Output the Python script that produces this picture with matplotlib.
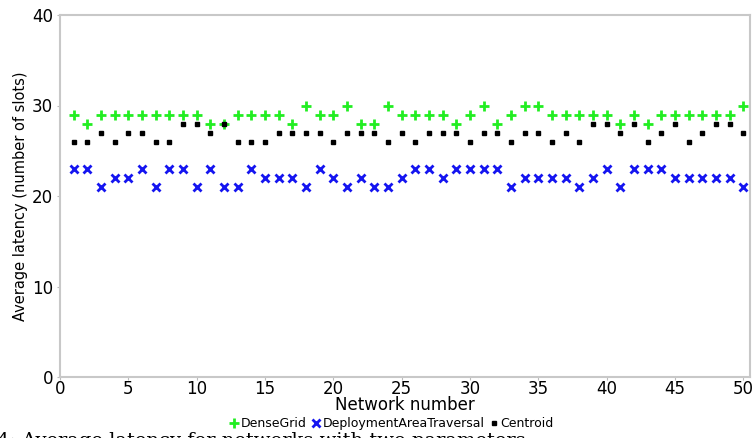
import numpy as np
import matplotlib.pyplot as plt

networks = np.arange(1, 51)

dense_grid = [29, 28, 29, 29, 29, 29, 29, 29, 29, 29,
              28, 28, 29, 29, 29, 29, 28, 30, 29, 29,
              30, 28, 28, 30, 29, 29, 29, 29, 28, 29,
              30, 28, 29, 30, 30, 29, 29, 29, 29, 29,
              28, 29, 28, 29, 29, 29, 29, 29, 29, 30]

area_traversal = [23, 23, 21, 22, 22, 23, 21, 23, 23, 21,
                  23, 21, 21, 23, 22, 22, 22, 21, 23, 22,
                  21, 22, 21, 21, 22, 23, 23, 22, 23, 23,
                  23, 23, 21, 22, 22, 22, 22, 21, 22, 23,
                  21, 23, 23, 23, 22, 22, 22, 22, 22, 21]

centroid = [26, 26, 27, 26, 27, 27, 26, 26, 28, 28,
            27, 28, 26, 26, 26, 27, 27, 27, 27, 26,
            27, 27, 27, 26, 27, 26, 27, 27, 27, 26,
            27, 27, 26, 27, 27, 26, 27, 26, 28, 28,
            27, 28, 26, 27, 28, 26, 27, 28, 28, 27]

fig = plt.figure(figsize=(7.53, 4.38), dpi=100)
ax = fig.add_axes([60 / 753, 61 / 438, 690 / 753, 362 / 438])

ax.plot(networks, dense_grid, linestyle='none', marker='+', color='#22ee22',
        markersize=6.5, markeredgewidth=2, label='DenseGrid')
ax.plot(networks, area_traversal, linestyle='none', marker='x', color='#1515f0',
        markersize=5.5, markeredgewidth=2, label='DeploymentAreaTraversal')
ax.plot(networks, centroid, linestyle='none', marker='s', color='black',
        markersize=3, label='Centroid')

ax.set_xlim(0, 50.5)
ax.set_ylim(0, 40)
ax.set_xticks(np.arange(0, 51, 5))
ax.set_yticks(np.arange(0, 41, 10))
ax.tick_params(labelsize=12, length=2, color='#bbbbbb')
ax.tick_params(axis='x', pad=0)
ax.tick_params(axis='y', pad=3)
for s in ax.spines.values():
    s.set_color('#c8c8c8')
    s.set_linewidth(1.5)

ax.set_xlabel('Network number', fontsize=12, labelpad=-1)
ax.set_ylabel('Average latency (number of slots)', fontsize=10.5, labelpad=3)

fig.legend(loc='center', bbox_to_anchor=(0.52, 0.033), ncol=3, frameon=False,
           fontsize=9, handlelength=0.8, handletextpad=0.1, columnspacing=0.4,
           borderaxespad=0)

# caption line of the page, cut off by the lower edge
fig.text(-0.004, -0.028, '4: Average latency for networks with two parameters',
         family='DejaVu Serif', fontsize=14, ha='left', va='bottom')

fig.savefig('out.png', dpi=100)
